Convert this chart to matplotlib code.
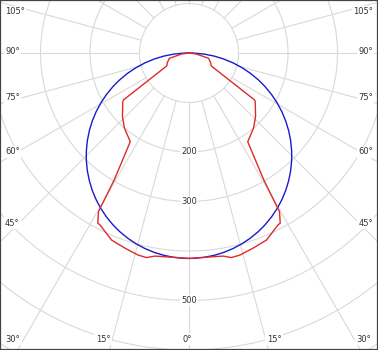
import numpy as np
import matplotlib
matplotlib.use('Agg')
import matplotlib.pyplot as plt
from matplotlib.patches import Circle

# half profile of the red curve (symmetric), angle from nadir in degrees, intensity in cd
red_angle = [0, 5, 9.5, 11.7, 14.1, 18.1, 22.5, 27.4, 28.2, 29.7, 30.5, 33.5,
             40.7, 46.3, 53.7, 54.4, 59.8, 65.9, 74.9, 82, 90]
red_cd = [415, 414, 416, 422, 421, 415, 409, 391, 390, 369, 298, 215,
          200, 186, 166, 163, 52, 48, 41, 15, 0]

# blue reference (cosine) curve peak value
blue_peak = 415

ring_values = [100, 200, 300, 400, 500, 600, 700]
ring_labels = [200, 300, 500]
spoke_step = 15

side_labels = ['105°', '90°', '75°', '60°', '45°']
side_y_px = [12, 52, 98, 152, 223]
bottom_labels = ['30°', '15°', '0°', '15°', '30°']
bottom_x_px = [13, 103, 187, 274, 364]

W, H = 378, 350
cx_px, cy_px = 189, 53
px_per_unit = 0.495

fig = plt.figure(figsize=(W / 100, H / 100), dpi=100)
ax = fig.add_axes([0, 0, 1, 1])
ax.set_xlim(-cx_px / px_per_unit, (W - cx_px) / px_per_unit)
ax.set_ylim(-(H - cy_px) / px_per_unit, cy_px / px_per_unit)
ax.set_aspect('equal')
ax.set_xticks([])
ax.set_yticks([])
for s in ax.spines.values():
    s.set_color('#444444')
    s.set_linewidth(1.6)

grid_col = '#d9d9d9'
# rings
for r in ring_values:
    ax.add_patch(Circle((0, 0), r, fill=False, ec=grid_col, lw=0.8, zorder=1))
# spokes, starting at the inner ring
for a in np.arange(0, 360, spoke_step):
    t = np.radians(a)
    r0, r1 = ring_values[0], 900
    ax.plot([-r0 * np.sin(t), -r1 * np.sin(t)], [-r0 * np.cos(t), -r1 * np.cos(t)],
            color=grid_col, lw=0.8, zorder=1)

# ring labels
for v in ring_labels:
    ax.text(0, -v, str(v), ha='center', va='center', fontsize=6, color='#333333',
            bbox=dict(boxstyle='square,pad=0.15', fc='white', ec='none'), zorder=2)

# blue cosine circle
ax.add_patch(Circle((0, -blue_peak / 2), blue_peak / 2, fill=False, ec='#1a1acc',
                    lw=1.0, zorder=3))

# red curve, mirrored for the other half
ang = np.radians(np.array(red_angle))
cd = np.array(red_cd)
full_ang = np.concatenate([-ang[::-1], ang[1:]])
full_cd = np.concatenate([cd[::-1], cd[1:]])
ax.plot(full_cd * np.sin(full_ang), -full_cd * np.cos(full_ang), color='#dd2a2a',
        lw=1.0, zorder=4)

# angle labels
lab_kw = dict(fontsize=6, color='#333333', va='center', transform=ax.transAxes,
              bbox=dict(boxstyle='square,pad=0.15', fc='white', ec='none'), zorder=5)
for lab, y in zip(side_labels, side_y_px):
    ax.text(5 / W, 1 - y / H, lab, ha='left', **lab_kw)
    ax.text(1 - 5 / W, 1 - y / H, lab, ha='right', **lab_kw)
for lab, x in zip(bottom_labels, bottom_x_px):
    ax.text(x / W, 1 - 339 / H, lab, ha='center', **lab_kw)

fig.savefig('out.png', dpi=100)
